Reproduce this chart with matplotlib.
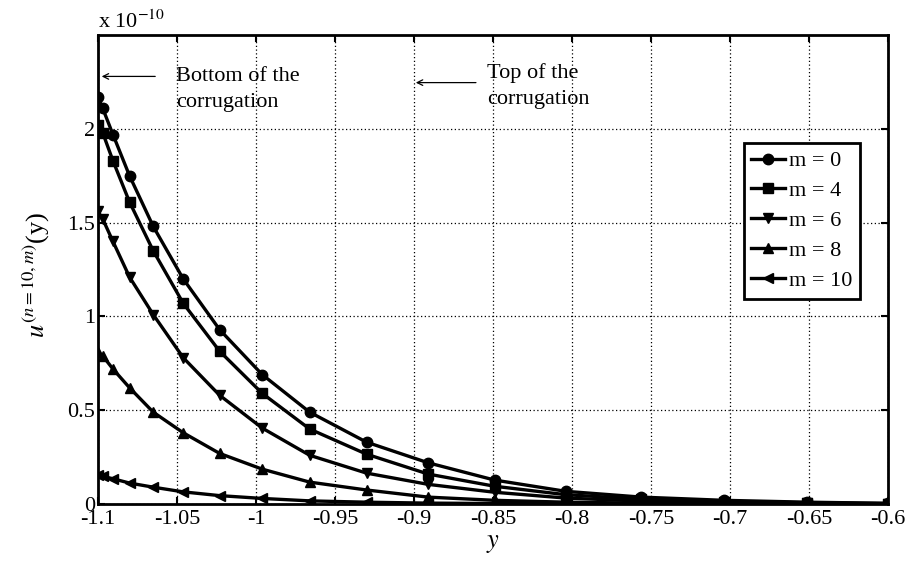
import matplotlib
matplotlib.use("Agg")
import matplotlib.pyplot as plt

plt.rcParams["font.family"] = ["Liberation Serif", "DejaVu Serif"]
plt.rcParams["mathtext.fontset"] = "stix"
plt.rcParams["axes.unicode_minus"] = False

# wall-normal coordinate and velocity profiles (units of 1e-10)
y_pts = [-1.1, -1.097, -1.0905, -1.080, -1.065, -1.046, -1.023, -0.996, -0.966,
         -0.930, -0.891, -0.849, -0.804, -0.756, -0.704, -0.651, -0.6]
u_m0 = [2.17, 2.11, 1.97, 1.75, 1.48, 1.20, 0.93, 0.69, 0.49, 0.33, 0.22,
        0.128, 0.068, 0.037, 0.020, 0.010, 0.004]
u_m4 = [2.02, 1.98, 1.83, 1.61, 1.35, 1.07, 0.815, 0.59, 0.40, 0.266, 0.16,
        0.095, 0.050, 0.026, 0.013, 0.007, 0.003]
u_m6 = [1.56, 1.52, 1.40, 1.21, 1.01, 0.78, 0.58, 0.405, 0.26, 0.165, 0.105,
        0.063, 0.032, 0.016, 0.008, 0.004, 0.001]
u_m8 = [0.81, 0.79, 0.72, 0.62, 0.49, 0.38, 0.27, 0.186, 0.117, 0.075, 0.037,
        0.020, 0.010, 0.005, 0.002, 0.001, 0.0]
u_m10 = [0.155, 0.148, 0.135, 0.112, 0.09, 0.065, 0.045, 0.03, 0.017, 0.01, 0.005,
         0.003, 0.001, 0.0005, 0.0002, 0.0001, 0.0]

series = [
    ("m = 0", u_m0, "o"),
    ("m = 4", u_m4, "s"),
    ("m = 6", u_m6, "v"),
    ("m = 8", u_m8, "^"),
    ("m = 10", u_m10, "<"),
]

x_ticks = [-1.1, -1.05, -1.0, -0.95, -0.9, -0.85, -0.8, -0.75, -0.7, -0.65, -0.6]
y_ticks = [0, 0.5, 1, 1.5, 2]

fig = plt.figure(figsize=(9.07, 5.67), dpi=100)
ax = fig.add_axes([0.108, 0.111, 0.871, 0.827])

for label, vals, mk in series:
    ax.plot(y_pts, vals, color="black", linewidth=2.4, marker=mk,
            markersize=7.5, label=label)

ax.set_xlim(-1.1, -0.6)
ax.set_ylim(0, 2.5)
ax.set_xticks(x_ticks)
ax.set_xticklabels([f"{t:g}" for t in x_ticks])
ax.set_yticks(y_ticks)
ax.set_yticklabels([f"{t:g}" for t in y_ticks])
ax.tick_params(direction="in", top=True, right=True, length=5, width=1.5,
               labelsize=16)
ax.tick_params(axis="x", pad=4)
ax.tick_params(axis="y", pad=2)
for s in ax.spines.values():
    s.set_linewidth(2)
ax.grid(True, color="black", linestyle=(0, (1, 2)), linewidth=0.9)

ax.set_xlabel("$y$", fontsize=19, labelpad=3)
ax.set_ylabel("$u^{(n=10,m)}$(y)", fontsize=19)
ax.yaxis.set_label_coords(-0.058, 0.49)

ax.text(0.0, 1.005, "x 10$^{-10}$", transform=ax.transAxes, fontsize=16,
        ha="left", va="bottom")

ax.annotate("", xy=(-1.0994, 2.28), xytext=(-1.062, 2.28),
            arrowprops=dict(arrowstyle="->", color="black", lw=0.9))
ax.text(-1.0506, 2.21, "Bottom of the\ncorrugation", fontsize=16,
        ha="left", va="center", linespacing=1.5)
ax.annotate("", xy=(-0.9006, 2.247), xytext=(-0.859, 2.247),
            arrowprops=dict(arrowstyle="->", color="black", lw=0.9))
ax.text(-0.854, 2.228, "Top of the\ncorrugation", fontsize=16,
        ha="left", va="center", linespacing=1.5)

leg = ax.legend(loc="upper right", bbox_to_anchor=(0.965, 0.77),
                borderaxespad=0, fontsize=16, handlelength=1.5,
                handletextpad=0.2, labelspacing=0.42, fancybox=False,
                framealpha=1, edgecolor="black", borderpad=0.35)
leg.get_frame().set_linewidth(2)

fig.savefig("out.png", dpi=100)
